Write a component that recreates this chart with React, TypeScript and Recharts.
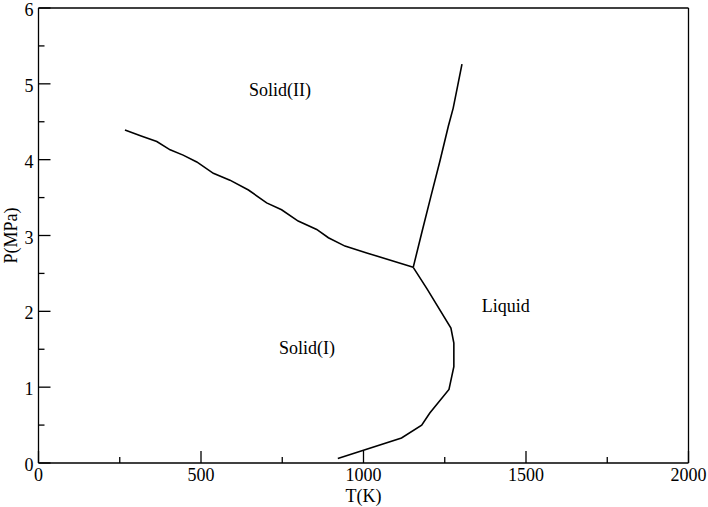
import React from 'react';
import { LineChart, Line, XAxis, YAxis, ReferenceDot } from 'recharts';

// Solid(I) / Solid(II) boundary
const solidT = [266, 318, 364, 405, 445, 487, 538, 589, 646, 702, 748, 799, 856, 892, 943, 1010, 1153];
const solidP = [4.39, 4.31, 4.24, 4.13, 4.06, 3.97, 3.82, 3.73, 3.6, 3.43, 3.34, 3.19, 3.08, 2.97, 2.86, 2.77, 2.58];

// Solid(II) / Liquid boundary
const meltIIT = [1153, 1180, 1207, 1235, 1261, 1276, 1290, 1303];
const meltIIP = [2.58, 3.05, 3.51, 3.98, 4.44, 4.68, 4.98, 5.26];

// Solid(I) / Liquid boundary
const meltIT = [1153, 1195, 1269, 1278, 1278, 1263, 1204, 1179, 1117, 921];
const meltIP = [2.58, 2.3, 1.78, 1.58, 1.27, 0.97, 0.66, 0.5, 0.33, 0.06];

const xTicks = [0, 250, 500, 750, 1000, 1250, 1500, 1750, 2000];
const yTicks = [0, 0.5, 1, 1.5, 2, 2.5, 3, 3.5, 4, 4.5, 5, 5.5, 6];

const regionLabels = [
  { name: 'Solid(II)', t: 743, p: 4.92 },
  { name: 'Solid(I)', t: 826, p: 1.51 },
  { name: 'Liquid', t: 1438, p: 2.07 },
];

const toPoints = (ts: number[], ps: number[]) => ts.map((t, i) => ({ t, p: ps[i] }));

const FONT = "'Liberation Serif', 'Times New Roman', serif";
const INK = '#000';
const textStyle = { fontFamily: FONT, fontSize: 18, fill: INK };

const XTick = (side: 'bottom' | 'top') => (props: any) => {
  const { x, y, payload } = props;
  const v = payload.value;
  const major = v % 500 === 0;
  const len = major ? 12 : 6;
  const dir = side === 'bottom' ? -1 : 1;
  return (
    <g>
      <line x1={x} y1={y} x2={x} y2={y + dir * len} stroke={INK} strokeWidth={1.3} />
      {side === 'bottom' && major && (
        <text x={x} y={y + 18} textAnchor="middle" style={textStyle}>
          {v}
        </text>
      )}
    </g>
  );
};

const YTick = (side: 'left' | 'right') => (props: any) => {
  const { x, y, payload } = props;
  const v = payload.value;
  const major = Number.isInteger(v);
  const len = major ? 12 : 6;
  const dir = side === 'left' ? 1 : -1;
  return (
    <g>
      <line x1={x} y1={y} x2={x + dir * len} y2={y} stroke={INK} strokeWidth={1.3} />
      {side === 'left' && major && (
        <text x={x - 5} y={y + 8} textAnchor="end" style={textStyle}>
          {v}
        </text>
      )}
    </g>
  );
};

const RegionLabel = (name: string) => (props: any) => {
  const { viewBox } = props;
  const cx = viewBox.x + (viewBox.width || 0) / 2;
  const cy = viewBox.y + (viewBox.height || 0) / 2;
  return (
    <text x={cx} y={cy + 6} textAnchor="middle" style={textStyle}>
      {name}
    </text>
  );
};

const App: React.FC = () => {
  const axisLine = { stroke: INK, strokeWidth: 1.3 };
  return (
    <div style={{ position: 'absolute', left: 0, top: 0, background: '#fff' }}>
      <LineChart width={708} height={507} margin={{ top: 0, right: 0, bottom: 0, left: 0 }}>
        <XAxis
          type="number"
          dataKey="t"
          domain={[0, 2000]}
          ticks={xTicks}
          interval={0}
          height={44}
          tickSize={0}
          tickMargin={0}
          tickLine={false}
          axisLine={axisLine}
          tick={XTick('bottom')}
          label={{
            value: 'T(K)',
            content: ({ viewBox }: any) => (
              <text x={viewBox.x + viewBox.width / 2} y={viewBox.y + 39} textAnchor="middle" style={textStyle}>
                T(K)
              </text>
            ),
          }}
        />
        <XAxis
          xAxisId="top"
          orientation="top"
          type="number"
          dataKey="t"
          domain={[0, 2000]}
          ticks={xTicks}
          interval={0}
          height={8}
          tickSize={0}
          tickMargin={0}
          tickLine={false}
          axisLine={axisLine}
          tick={XTick('top')}
        />
        <YAxis
          type="number"
          dataKey="p"
          domain={[0, 6]}
          ticks={yTicks}
          interval={0}
          width={38.5}
          tickSize={0}
          tickMargin={0}
          tickLine={false}
          axisLine={axisLine}
          tick={YTick('left')}
          label={{
            value: 'P(MPa)',
            content: ({ viewBox }: any) => {
              const cx = viewBox.x + 11;
              const cy = viewBox.y + viewBox.height / 2;
              return (
                <text
                  x={cx}
                  y={cy}
                  transform={`rotate(-90 ${cx} ${cy})`}
                  textAnchor="middle"
                  dominantBaseline="central"
                  style={textStyle}
                >
                  P(MPa)
                </text>
              );
            },
          }}
        />
        <YAxis
          yAxisId="right"
          orientation="right"
          type="number"
          dataKey="p"
          domain={[0, 6]}
          ticks={yTicks}
          interval={0}
          width={19.5}
          tickSize={0}
          tickMargin={0}
          tickLine={false}
          axisLine={axisLine}
          tick={YTick('right')}
        />
        <Line
          data={toPoints(solidT, solidP)}
          dataKey="p"
          type="linear"
          stroke={INK}
          strokeWidth={1.6}
          dot={false}
          isAnimationActive={false}
        />
        <Line
          data={toPoints(meltIIT, meltIIP)}
          dataKey="p"
          type="linear"
          stroke={INK}
          strokeWidth={1.6}
          dot={false}
          isAnimationActive={false}
        />
        <Line
          data={toPoints(meltIT, meltIP)}
          dataKey="p"
          type="linear"
          stroke={INK}
          strokeWidth={1.6}
          dot={false}
          isAnimationActive={false}
        />
        {regionLabels.map((r) => (
          <ReferenceDot
            key={r.name}
            x={r.t}
            y={r.p}
            r={0}
            fill="none"
            stroke="none"
            label={{ value: r.name, content: RegionLabel(r.name) }}
          />
        ))}
      </LineChart>
    </div>
  );
};

export default App;
